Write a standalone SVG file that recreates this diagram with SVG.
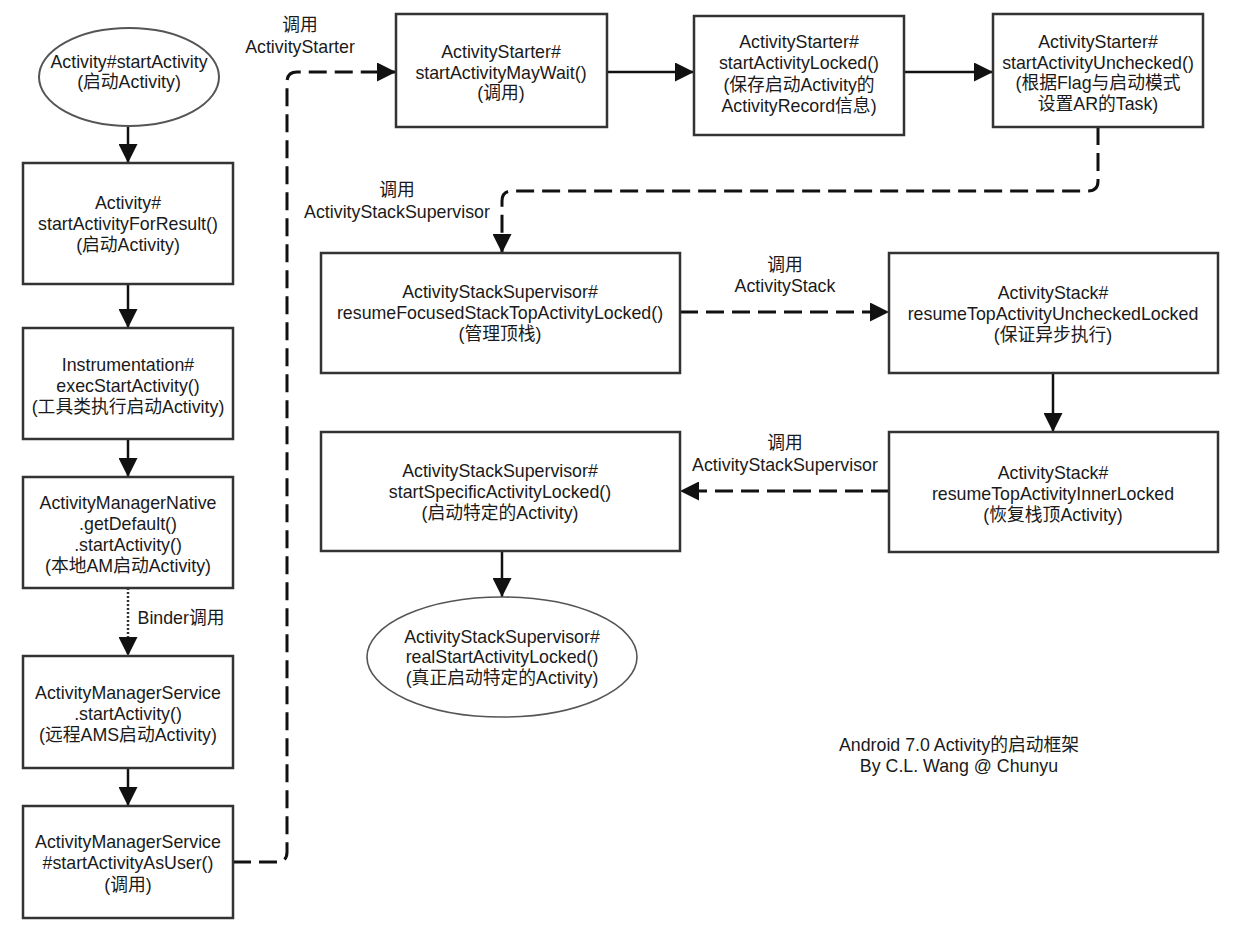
<svg xmlns="http://www.w3.org/2000/svg" width="1240" height="936" viewBox="0 0 1240 936">
<style>
text{font-family:"Liberation Sans","Noto Sans CJK SC",sans-serif;font-size:17.8px;fill:#1a1a1a;text-anchor:middle}
.box{fill:#fff;stroke:#333;stroke-width:2.5}
.ell{fill:#fff;stroke:#555;stroke-width:2}
.solid{fill:none;stroke:#111;stroke-width:2.5}
.dash{fill:none;stroke:#111;stroke-width:3;stroke-dasharray:18 8}
.dot{fill:none;stroke:#333;stroke-width:2.5;stroke-dasharray:2 2}
</style>
<defs>
<marker id="ah" markerUnits="userSpaceOnUse" markerWidth="19" markerHeight="19" refX="19" refY="9.5" orient="auto">
<path d="M0,0 L19,9.5 L0,19 z" fill="#111"/>
</marker>
</defs>
<rect width="1240" height="936" fill="#fff"/>
<g id="connectors">
<line class="solid" x1="128" y1="127" x2="128" y2="163" marker-end="url(#ah)"/>
<line class="solid" x1="128" y1="284" x2="128" y2="328" marker-end="url(#ah)"/>
<line class="solid" x1="128" y1="439" x2="128" y2="477" marker-end="url(#ah)"/>
<line class="dot" x1="128" y1="588" x2="128" y2="656" marker-end="url(#ah)"/>
<line class="solid" x1="128" y1="768" x2="128" y2="806" marker-end="url(#ah)"/>
<path class="dash" d="M233 862 H277 Q287 862 287 852 V82 Q287 72 297 72 H396" marker-end="url(#ah)"/>
<line class="solid" x1="607" y1="72" x2="694" y2="72" marker-end="url(#ah)"/>
<line class="solid" x1="904" y1="72" x2="993" y2="72" marker-end="url(#ah)"/>
<path class="dash" d="M1098 127 V181 Q1098 191 1088 191 H512 Q502 191 502 201 V253" marker-end="url(#ah)"/>
<line class="dash" x1="680" y1="312" x2="889" y2="312" marker-end="url(#ah)"/>
<line class="solid" x1="1053" y1="373" x2="1053" y2="432" marker-end="url(#ah)"/>
<line class="dash" x1="889" y1="491" x2="680" y2="491" marker-end="url(#ah)"/>
<line class="solid" x1="502" y1="551" x2="502" y2="597" marker-end="url(#ah)"/>
<text x="300" y="31">调用</text>
<text x="300" y="53">ActivityStarter</text>
<text x="181" y="624">Binder调用</text>
<text x="397" y="196">调用</text>
<text x="397" y="218">ActivityStackSupervisor</text>
<text x="785" y="271">调用</text>
<text x="785" y="292">ActivityStack</text>
<text x="785" y="449">调用</text>
<text x="785" y="471">ActivityStackSupervisor</text>
</g>
<g id="n_start">
<ellipse class="ell" cx="129" cy="77" rx="90" ry="49"/>
<text x="129" y="68">Activity#startActivity</text>
<text x="129" y="88">(启动Activity)</text>
</g>
<g id="n_forresult">
<rect class="box" x="23" y="163" width="210" height="121"/>
<text x="128" y="209">Activity#</text>
<text x="128" y="230">startActivityForResult()</text>
<text x="128" y="251">(启动Activity)</text>
</g>
<g id="n_instr">
<rect class="box" x="23" y="328" width="210" height="111"/>
<text x="128" y="371">Instrumentation#</text>
<text x="128" y="392">execStartActivity()</text>
<text x="128" y="413">(工具类执行启动Activity)</text>
</g>
<g id="n_amn">
<rect class="box" x="23" y="477" width="210" height="111"/>
<text x="128" y="509">ActivityManagerNative</text>
<text x="128" y="530">.getDefault()</text>
<text x="128" y="551">.startActivity()</text>
<text x="128" y="572">(本地AM启动Activity)</text>
</g>
<g id="n_ams">
<rect class="box" x="23" y="656" width="210" height="112"/>
<text x="128" y="699">ActivityManagerService</text>
<text x="128" y="720">.startActivity()</text>
<text x="128" y="741">(远程AMS启动Activity)</text>
</g>
<g id="n_asuser">
<rect class="box" x="23" y="806" width="210" height="112"/>
<text x="128" y="848">ActivityManagerService</text>
<text x="128" y="869">#startActivityAsUser()</text>
<text x="128" y="891">(调用)</text>
</g>
<g id="n_maywait">
<rect class="box" x="396" y="14" width="211" height="113"/>
<text x="501" y="58">ActivityStarter#</text>
<text x="501" y="79">startActivityMayWait()</text>
<text x="501" y="99">(调用)</text>
</g>
<g id="n_locked">
<rect class="box" x="694" y="16" width="210" height="119"/>
<text x="799" y="48">ActivityStarter#</text>
<text x="799" y="69">startActivityLocked()</text>
<text x="799" y="91">(保存启动Activity的</text>
<text x="799" y="112">ActivityRecord信息)</text>
</g>
<g id="n_unchecked">
<rect class="box" x="993" y="14" width="210" height="113"/>
<text x="1098" y="48">ActivityStarter#</text>
<text x="1098" y="69">startActivityUnchecked()</text>
<text x="1098" y="89">(根据Flag与启动模式</text>
<text x="1098" y="110">设置AR的Task)</text>
</g>
<g id="n_focused">
<rect class="box" x="321" y="253" width="359" height="120"/>
<text x="500" y="298">ActivityStackSupervisor#</text>
<text x="500" y="319">resumeFocusedStackTopActivityLocked()</text>
<text x="500" y="340">(管理顶栈)</text>
</g>
<g id="n_uncheckedlocked">
<rect class="box" x="889" y="253" width="329" height="120"/>
<text x="1053" y="299">ActivityStack#</text>
<text x="1053" y="320">resumeTopActivityUncheckedLocked</text>
<text x="1053" y="341">(保证异步执行)</text>
</g>
<g id="n_inner">
<rect class="box" x="889" y="432" width="329" height="120"/>
<text x="1053" y="479">ActivityStack#</text>
<text x="1053" y="500">resumeTopActivityInnerLocked</text>
<text x="1053" y="521">(恢复栈顶Activity)</text>
</g>
<g id="n_specific">
<rect class="box" x="321" y="432" width="359" height="119"/>
<text x="500" y="477">ActivityStackSupervisor#</text>
<text x="500" y="498">startSpecificActivityLocked()</text>
<text x="500" y="519">(启动特定的Activity)</text>
</g>
<g id="n_real">
<ellipse class="ell" cx="502" cy="657" rx="135" ry="60" style="stroke-width:1.6"/>
<text x="502" y="643">ActivityStackSupervisor#</text>
<text x="502" y="663">realStartActivityLocked()</text>
<text x="502" y="684">(真正启动特定的Activity)</text>
</g>
<g id="caption">
<text x="959" y="751">Android 7.0 Activity的启动框架</text>
<text x="959" y="772">By C.L. Wang @ Chunyu</text>
</g>
</svg>
